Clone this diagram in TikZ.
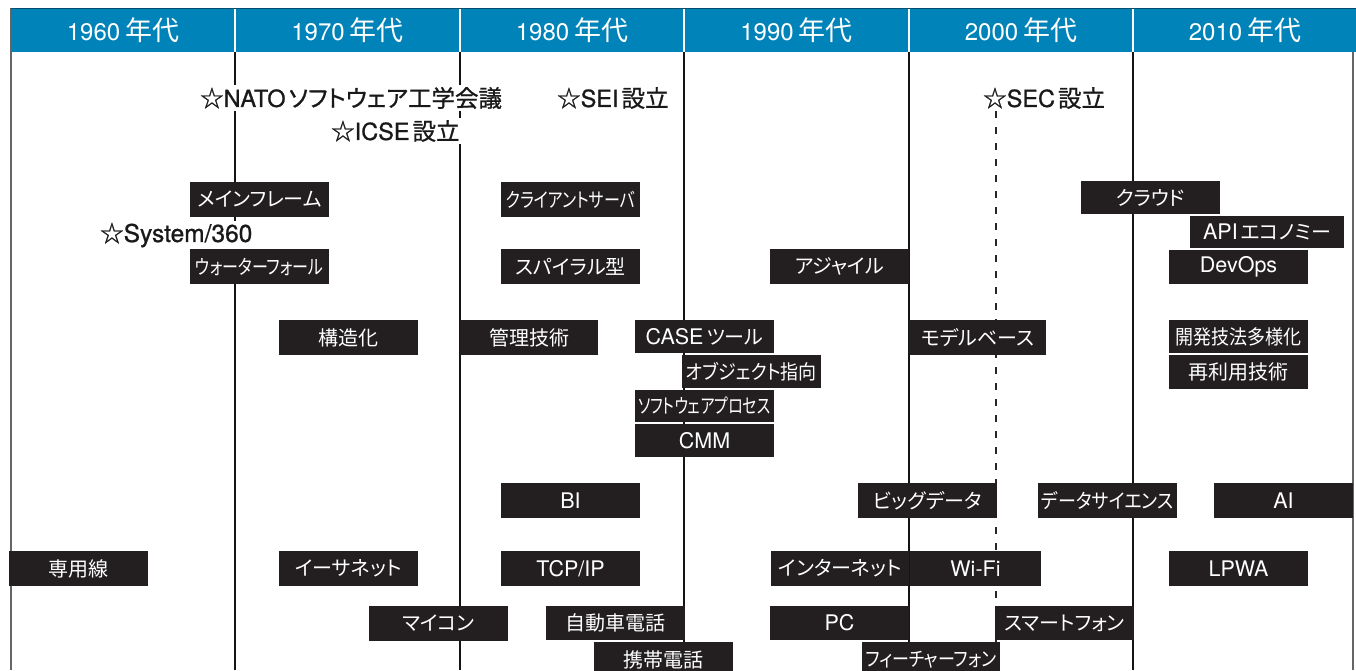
\documentclass[tikz,border=0pt]{standalone}
\usepackage{fontspec}
\usepackage{graphicx}
\setmainfont{Noto Sans CJK JP}[RawFeature=+palt]
\newfontfamily\jpstar{Noto Sans CJK JP}[RawFeature=+palt, FakeBold=0.9]
\newfontfamily\lat{TeX Gyre Heros}
\newfontfamily\latstar{TeX Gyre Heros}[FakeBold=0.9]
\definecolor{hdblue}{RGB}{0,131,184}
\definecolor{boxblk}{RGB}{35,31,32}
\newcommand\la[1]{{\lat\fontsize{21.5}{21.5}\selectfont #1}}
\newcommand\lb[1]{{\latstar\fontsize{23.5}{23.5}\selectfont #1}\hspace{3pt}}
\newcommand\lh[1]{{\lat\fontsize{24}{24}\selectfont #1}\hspace{5pt}}
\newcommand\cond[2]{\scalebox{#1}[1]{#2}}
\begin{document}
\begin{tikzpicture}[x=1pt,y=-1pt,
  box/.style={fill=boxblk, text=white, minimum width=139pt, minimum height=35pt, inner sep=0pt, font=\fontsize{20}{20}\selectfont},
  star/.style={fill=white, text=black!90, inner xsep=1pt, inner ysep=2pt, anchor=west, font=\jpstar\fontsize{23.5}{23.5}\selectfont},
  hdr/.style={text=white, inner sep=0pt, font=\fontsize{27}{27}\selectfont},
  gridline/.style={line width=2pt, draw=black!92},
  border/.style={line width=1.3pt, draw=black!60},
  secdash/.style={line width=1.2pt, draw=black!85, dash pattern=on 7pt off 9pt}]
\useasboundingbox (0,0) rectangle (1356,670);
\clip (0,0) rectangle (1356,670);
\fill[white] (0,0) rectangle (1356,670);
% borders and decade lines
\draw[border] (11,8) -- (11,670);
\draw[border] (1353,52) -- (1353,670);
\foreach \x in {235,460,684,909,1133} \draw[gridline] (\x,52) -- (\x,670);
% events
\node[star] (nato) at (199,98) {☆\lb{NATO}ソフトウェア工学会議};
\node[star] (icse) at (330,131) {☆\lb{ICSE}設立};
\node[star] (sei) at (556,98) {☆\lb{SEI}設立};
\node[star] (sec) at (982,98) {☆\lb{SEC}設立};
\coordinate (secbot) at (996,670);
\draw[secdash] (sec.south west -| secbot) -- (secbot);
\node[star] (sys) at (99,235) {☆{\latstar\fontsize{24.5}{24.5}\selectfont System/360}};
% boxes
\node[box] (mainframe) at (259.5,199.5) {メインフレーム};
\node[box] (waterfall) at (259.5,266.5) {\cond{0.8}{ウォーターフォール}};
\node[box] (kozoka) at (348.5,337.5) {構造化};
\node[box] (cliserv) at (570.5,199.5) {\cond{0.8}{クライアントサーバ}};
\node[box] (spiral) at (570.5,266.5) {スパイラル型};
\node[box] (agile) at (839.5,266.5) {アジャイル};
\node[box, minimum width=138pt] (kanri) at (529,337.5) {管理技術};
\node[box, minimum height=33pt] (casetool) at (704.5,336.5) {\la{CASE}\hspace{3pt}ツール};
\node[box, minimum height=33pt] (oo) at (751.5,371.5) {\cond{0.9}{オブジェクト指向}};
\node[box, minimum height=32pt] (swproc) at (704.5,406) {\cond{0.75}{ソフトウェアプロセス}};
\node[box, minimum height=33pt] (cmm) at (704.5,440.5) {\la{CMM}};
\node[box, minimum height=33pt] (cloud) at (1150.5,197.5) {クラウド};
\node[box, minimum width=154pt, minimum height=32pt] (apieco) at (1267,232) {\la{API}\hspace{3pt}エコノミー};
\node[box, minimum height=34pt] (devops) at (1238.5,267) {\la{DevOps}};
\node[box, minimum width=137pt] (model) at (977.5,337.5) {モデルベース};
\node[box, minimum height=33pt] (kaihatsu) at (1238.5,336.5) {\cond{0.9}{開発技法多様化}};
\node[box, minimum height=34pt] (saiyou) at (1238.5,372) {再利用技術};
\node[box] (senyo) at (78.5,568.5) {専用線};
\node[box] (ether) at (348.5,568.5) {イーサネット};
\node[box] (maicon) at (438.5,623.5) {マイコン};
\node[box] (bi) at (570.5,500.5) {\la{BI}};
\node[box] (tcpip) at (570.5,568.5) {\la{TCP/IP}};
\node[box, minimum height=34pt] (jidosha) at (615.5,623) {自動車電話};
\node[box] (keitai) at (663.5,659.5) {携帯電話};
\node[box, minimum width=138pt] (internet) at (840,568.5) {インターネット};
\node[box, minimum height=34pt] (pc) at (839.5,623) {\la{PC}};
\node[box] (bigdata) at (927.5,500.5) {ビッグデータ};
\node[box, minimum width=138pt] (feature) at (931,659.5) {\cond{0.85}{フィーチャーフォン}};
\node[box, minimum width=131pt] (wifi) at (975.5,568.5) {\la{Wi-Fi}};
\node[box] (datasci) at (1107.5,500.5) {\cond{0.9}{データサイエンス}};
\node[box] (ai) at (1283.5,500.5) {\la{AI}};
\node[box] (lpwa) at (1238.5,568.5) {\la{LPWA}};
\node[box, minimum height=34pt] (smart) at (1064.5,623) {スマートフォン};
% header
\fill[hdblue] (11,8) rectangle (1356,52);
\draw[line width=0.9pt, draw=hdblue!60!black] (11,8.4) -- (1356,8.4);
\foreach \x in {235,460,684,909,1133} \draw[white, line width=1.5pt] (\x,9) -- (\x,52);
\node[hdr] (h60) at (123,30) {\lh{1960}年代};
\node[hdr] (h70) at (347.5,30) {\lh{1970}年代};
\node[hdr] (h80) at (572,30) {\lh{1980}年代};
\node[hdr] (h90) at (796.5,30) {\lh{1990}年代};
\node[hdr] (h00) at (1021,30) {\lh{2000}年代};
\node[hdr] (h10) at (1245,30) {\lh{2010}年代};
\end{tikzpicture}
\end{document}
